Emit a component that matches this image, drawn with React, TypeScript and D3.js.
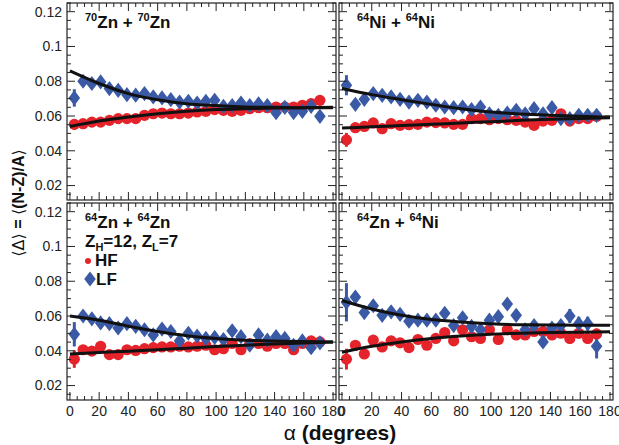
import React from "react";
import * as d3 from "d3";

// Emission angle of each data point (degrees)
const ALPHA = [3, 9, 15, 21, 27, 33, 39, 45, 51, 57, 63, 69, 75, 81, 87, 93, 99, 105, 111, 117, 123, 129, 135, 141, 147, 153, 159, 165, 171];
const FIT_ALPHA = [0, 20, 40, 60, 80, 100, 120, 140, 160, 180];

const X_TICKS = [0, 20, 40, 60, 80, 100, 120, 140, 160, 180];
const Y_TICKS = [0.02, 0.04, 0.06, 0.08, 0.1, 0.12];
const Y_TICK_LABELS = ["0.02", "0.04", "0.06", "0.08", "0.1", "0.12"];

// ---- 70Zn + 70Zn ----
const ZN70_HF = [0.0552, 0.0556, 0.0565, 0.0565, 0.0575, 0.0585, 0.0585, 0.0585, 0.0604, 0.0613, 0.0617, 0.0613, 0.0613, 0.0617, 0.0623, 0.0627, 0.0637, 0.0633, 0.0627, 0.0633, 0.0642, 0.0648, 0.0648, 0.0652, 0.0652, 0.0652, 0.0662, 0.0671, 0.069];
const ZN70_LF = [0.0704, 0.08, 0.0787, 0.0796, 0.0758, 0.0748, 0.0723, 0.072, 0.0729, 0.071, 0.0704, 0.0694, 0.068, 0.0685, 0.0675, 0.0685, 0.069, 0.0656, 0.066, 0.0675, 0.066, 0.067, 0.066, 0.0619, 0.065, 0.062, 0.0627, 0.0656, 0.0598];
const ZN70_HF_ERR = [0.003, 0.001, 0.001, 0.001, 0.001, 0.001, 0.001, 0.001, 0.001, 0.001, 0.001, 0.001, 0.001, 0.001, 0.001, 0.001, 0.001, 0.001, 0.001, 0.001, 0.001, 0.001, 0.001, 0.001, 0.001, 0.001, 0.001, 0.001, 0.001];
const ZN70_LF_ERR = [0.005, 0.001, 0.001, 0.001, 0.001, 0.001, 0.001, 0.001, 0.001, 0.001, 0.001, 0.001, 0.001, 0.001, 0.001, 0.001, 0.001, 0.001, 0.001, 0.001, 0.001, 0.001, 0.001, 0.001, 0.001, 0.001, 0.001, 0.001, 0.002];
const ZN70_HF_FIT = [0.054, 0.0571, 0.0594, 0.0613, 0.0627, 0.0637, 0.0642, 0.0646, 0.0648, 0.065];
const ZN70_LF_FIT = [0.086, 0.0787, 0.0729, 0.0694, 0.0671, 0.066, 0.0652, 0.065, 0.0648, 0.0648];

// ---- 64Ni + 64Ni ----
const NI64_HF = [0.0463, 0.0533, 0.054, 0.056, 0.0527, 0.0556, 0.0546, 0.055, 0.0552, 0.0565, 0.0562, 0.056, 0.0552, 0.0552, 0.0585, 0.0585, 0.0579, 0.0585, 0.0579, 0.0575, 0.0565, 0.0546, 0.0571, 0.0575, 0.0613, 0.0571, 0.0585, 0.0585, 0.0598];
const NI64_LF = [0.0777, 0.0667, 0.0696, 0.0729, 0.0719, 0.071, 0.0696, 0.068, 0.069, 0.068, 0.0662, 0.0652, 0.0648, 0.0652, 0.0637, 0.0652, 0.0613, 0.0604, 0.0617, 0.0633, 0.0613, 0.0642, 0.0613, 0.0648, 0.0585, 0.0585, 0.0604, 0.0604, 0.0604];
const NI64_HF_ERR = [0.004, 0.001, 0.001, 0.001, 0.001, 0.001, 0.001, 0.001, 0.001, 0.001, 0.001, 0.001, 0.001, 0.001, 0.001, 0.001, 0.001, 0.001, 0.001, 0.001, 0.001, 0.001, 0.001, 0.001, 0.001, 0.001, 0.001, 0.001, 0.001];
const NI64_LF_ERR = [0.0058, 0.001, 0.001, 0.001, 0.001, 0.001, 0.001, 0.001, 0.001, 0.001, 0.001, 0.001, 0.001, 0.001, 0.001, 0.001, 0.001, 0.001, 0.001, 0.001, 0.001, 0.001, 0.001, 0.001, 0.001, 0.001, 0.001, 0.001, 0.001];
const NI64_HF_FIT = [0.0531, 0.0538, 0.0545, 0.0552, 0.056, 0.0567, 0.0575, 0.0581, 0.0586, 0.059];
const NI64_LF_FIT = [0.0758, 0.0723, 0.0694, 0.0667, 0.0642, 0.0623, 0.0612, 0.0604, 0.0598, 0.0594];

// ---- 64Zn + 64Zn ----
const ZN64_HF = [0.0352, 0.0406, 0.0398, 0.0426, 0.0378, 0.0378, 0.0406, 0.0402, 0.0412, 0.0418, 0.0422, 0.0422, 0.0426, 0.0422, 0.0426, 0.0432, 0.0406, 0.0412, 0.0442, 0.0406, 0.0442, 0.0442, 0.0426, 0.0442, 0.0442, 0.0406, 0.0442, 0.0457, 0.0451];
const ZN64_LF = [0.0495, 0.06, 0.0584, 0.056, 0.0556, 0.0531, 0.0556, 0.0541, 0.0521, 0.0491, 0.0525, 0.0511, 0.0457, 0.0501, 0.0485, 0.0471, 0.0477, 0.0465, 0.0515, 0.0481, 0.0432, 0.0491, 0.0461, 0.0481, 0.0471, 0.0432, 0.0457, 0.0418, 0.0446];
const ZN64_HF_ERR = [0.005, 0.001, 0.001, 0.001, 0.001, 0.001, 0.001, 0.001, 0.001, 0.001, 0.001, 0.001, 0.001, 0.001, 0.001, 0.001, 0.001, 0.001, 0.001, 0.001, 0.001, 0.001, 0.001, 0.001, 0.001, 0.001, 0.001, 0.001, 0.001];
const ZN64_LF_ERR = [0.007, 0.001, 0.001, 0.001, 0.001, 0.001, 0.001, 0.001, 0.001, 0.001, 0.001, 0.001, 0.001, 0.001, 0.001, 0.001, 0.001, 0.001, 0.001, 0.001, 0.001, 0.001, 0.001, 0.001, 0.001, 0.001, 0.001, 0.001, 0.001];
const ZN64_HF_FIT = [0.0382, 0.039, 0.0398, 0.0406, 0.0415, 0.0424, 0.0432, 0.0439, 0.0445, 0.0451];
const ZN64_LF_FIT = [0.06, 0.0576, 0.0541, 0.0511, 0.0487, 0.0471, 0.0461, 0.0457, 0.0453, 0.0451];

// ---- 64Zn + 64Ni ----
const ZNNI_HF = [0.0352, 0.0432, 0.0382, 0.0461, 0.0422, 0.0457, 0.0446, 0.0418, 0.0465, 0.0432, 0.0471, 0.0505, 0.0457, 0.0521, 0.0481, 0.0471, 0.0521, 0.0465, 0.0521, 0.0491, 0.0491, 0.0511, 0.0511, 0.0491, 0.0501, 0.0471, 0.0501, 0.0471, 0.0497];
const ZNNI_LF = [0.0679, 0.0709, 0.062, 0.0659, 0.0604, 0.0624, 0.061, 0.057, 0.0576, 0.0576, 0.0576, 0.0616, 0.0545, 0.059, 0.0541, 0.0521, 0.0576, 0.0596, 0.0669, 0.0604, 0.0521, 0.0545, 0.0451, 0.0531, 0.0545, 0.06, 0.0556, 0.0556, 0.0426];
const ZNNI_HF_ERR = [0.006, 0.003, 0.002, 0.002, 0.002, 0.002, 0.002, 0.002, 0.002, 0.002, 0.002, 0.002, 0.002, 0.002, 0.002, 0.002, 0.002, 0.002, 0.002, 0.002, 0.002, 0.002, 0.003, 0.002, 0.002, 0.003, 0.003, 0.003, 0.003];
const ZNNI_LF_ERR = [0.011, 0.003, 0.002, 0.002, 0.002, 0.002, 0.002, 0.002, 0.002, 0.002, 0.002, 0.002, 0.002, 0.002, 0.002, 0.002, 0.003, 0.002, 0.002, 0.002, 0.002, 0.002, 0.003, 0.003, 0.003, 0.004, 0.004, 0.004, 0.007];
const ZNNI_HF_FIT = [0.0392, 0.0426, 0.0451, 0.0471, 0.0485, 0.0495, 0.0501, 0.0505, 0.0507, 0.0509];
const ZNNI_LF_FIT = [0.0689, 0.064, 0.0604, 0.058, 0.0566, 0.0556, 0.055, 0.0549, 0.0547, 0.0547];

const RED = "#e5232b";
const BLUE = "#3a5aa6";
const FONT = "'Liberation Sans', Arial, Helvetica, sans-serif";

type Panel = {
  key: string;
  a: string; b: string; ma: string; mb: string;
  x0: number; x1: number; y0: number; y1: number;
  hf: number[]; lf: number[]; hfErr: number[]; lfErr: number[];
  hfFit: number[]; lfFit: number[];
  legend?: boolean; yLabels: boolean; xLabels: boolean;
};

const PANELS: Panel[] = [
  { key: "tl", a: "70", ma: "Zn", b: "70", mb: "Zn", x0: 67, x1: 336, y0: 3, y1: 200, hf: ZN70_HF, lf: ZN70_LF, hfErr: ZN70_HF_ERR, lfErr: ZN70_LF_ERR, hfFit: ZN70_HF_FIT, lfFit: ZN70_LF_FIT, yLabels: true, xLabels: false },
  { key: "tr", a: "64", ma: "Ni", b: "64", mb: "Ni", x0: 339, x1: 613, y0: 3, y1: 200, hf: NI64_HF, lf: NI64_LF, hfErr: NI64_HF_ERR, lfErr: NI64_LF_ERR, hfFit: NI64_HF_FIT, lfFit: NI64_LF_FIT, yLabels: false, xLabels: false },
  { key: "bl", a: "64", ma: "Zn", b: "64", mb: "Zn", x0: 67, x1: 336, y0: 203, y1: 400, hf: ZN64_HF, lf: ZN64_LF, hfErr: ZN64_HF_ERR, lfErr: ZN64_LF_ERR, hfFit: ZN64_HF_FIT, lfFit: ZN64_LF_FIT, legend: true, yLabels: true, xLabels: true },
  { key: "br", a: "64", ma: "Zn", b: "64", mb: "Ni", x0: 339, x1: 613, y0: 203, y1: 400, hf: ZNNI_HF, lf: ZNNI_LF, hfErr: ZNNI_HF_ERR, lfErr: ZNNI_LF_ERR, hfFit: ZNNI_HF_FIT, lfFit: ZNNI_LF_FIT, yLabels: false, xLabels: true },
];

const diamond = (cx: number, cy: number, w = 5.8, h = 7.6) =>
  `M${cx},${cy - h}L${cx + w},${cy}L${cx},${cy + h}L${cx - w},${cy}Z`;

function PanelView({ p }: { p: Panel }) {
  const x = d3.scaleLinear().domain([-2, 182]).range([p.x0, p.x1]);
  const y = d3.scaleLinear().domain([0.0117, 0.125]).range([p.y1, p.y0]);
  const line = d3.line<number>().x((_, i) => x(FIT_ALPHA[i])).y((d) => y(d)).curve(d3.curveMonotoneX);
  const xMinor = d3.range(0, 181, 5);
  const yMinor = d3.range(0.015, 0.1251, 0.005);
  const clipId = `clip-${p.key}`;
  return (
    <g>
      <defs>
        <clipPath id={clipId}>
          <rect x={p.x0} y={p.y0} width={p.x1 - p.x0} height={p.y1 - p.y0} />
        </clipPath>
      </defs>
      <g clipPath={`url(#${clipId})`}>
        {p.hf.map((v, i) => (
          <line key={`he${i}`} x1={x(ALPHA[i])} x2={x(ALPHA[i])} y1={y(v - p.hfErr[i])} y2={y(v + p.hfErr[i])} stroke={RED} strokeWidth={3} />
        ))}
        {p.lf.map((v, i) => (
          <line key={`le${i}`} x1={x(ALPHA[i])} x2={x(ALPHA[i])} y1={y(v - p.lfErr[i])} y2={y(v + p.lfErr[i])} stroke={BLUE} strokeWidth={3} />
        ))}
        {p.hf.map((v, i) => (
          <circle key={`h${i}`} cx={x(ALPHA[i])} cy={y(v)} r={5.6} fill={RED} />
        ))}
        {p.lf.map((v, i) => (
          <path key={`l${i}`} d={diamond(x(ALPHA[i]), y(v))} fill={BLUE} />
        ))}
        <path d={line(p.hfFit) || ""} fill="none" stroke="#111" strokeWidth={3} />
        <path d={line(p.lfFit) || ""} fill="none" stroke="#111" strokeWidth={3} />
      </g>
      {xMinor.map((t) => {
        const major = t % 20 === 0;
        const len = major ? 8 : 4;
        return (
          <g key={`xt${t}`} stroke="#222" strokeWidth={1}>
            <line x1={x(t)} x2={x(t)} y1={p.y1} y2={p.y1 - len} />
            <line x1={x(t)} x2={x(t)} y1={p.y0} y2={p.y0 + len} />
          </g>
        );
      })}
      {yMinor.map((t, i) => {
        const major = Math.abs(Math.round(t * 50) - t * 50) < 1e-6;
        const len = major ? 8 : 4;
        return (
          <g key={`yt${i}`} stroke="#222" strokeWidth={1}>
            <line x1={p.x0} x2={p.x0 + len} y1={y(t)} y2={y(t)} />
            <line x1={p.x1} x2={p.x1 - len} y1={y(t)} y2={y(t)} />
          </g>
        );
      })}
      <rect x={p.x0} y={p.y0} width={p.x1 - p.x0} height={p.y1 - p.y0} fill="none" stroke="#222" strokeWidth={1.2} />
      {p.yLabels &&
        Y_TICKS.map((t, i) => (
          <text key={`yl${i}`} x={p.x0 - 5} y={y(t)} dy="0.35em" textAnchor="end" fontSize={14} fill="#222" fontFamily={FONT}>
            {Y_TICK_LABELS[i]}
          </text>
        ))}
      {p.xLabels &&
        X_TICKS.map((t) => (
          <text key={`xl${t}`} x={x(t)} y={p.y1 + 16} textAnchor="middle" fontSize={14} fill="#222" fontFamily={FONT}>
            {t}
          </text>
        ))}
      <text x={p.x0 + 18} y={p.y0 + 25} fontSize={17} fontWeight="bold" fontFamily={FONT} fill="#111">
        <tspan fontSize={11} dy={-7}>{p.a}</tspan>
        <tspan dy={7}>{p.ma} + </tspan>
        <tspan fontSize={11} dy={-7}>{p.b}</tspan>
        <tspan dy={7}>{p.mb}</tspan>
      </text>
      {p.legend && (
        <g fontFamily={FONT} fontWeight="bold" fill="#111">
          <text x={p.x0 + 18} y={p.y0 + 44} fontSize={17}>
            <tspan>Z</tspan>
            <tspan fontSize={11} dy={4}>H</tspan>
            <tspan dy={-4}>=12, Z</tspan>
            <tspan fontSize={11} dy={4}>L</tspan>
            <tspan dy={-4}>=7</tspan>
          </text>
          <circle cx={p.x0 + 21} cy={p.y0 + 58} r={3} fill={RED} />
          <text x={p.x0 + 28} y={p.y0 + 63} fontSize={17}>HF</text>
          <path d={diamond(p.x0 + 23, p.y0 + 76)} fill={BLUE} />
          <text x={p.x0 + 29} y={p.y0 + 82} fontSize={17}>LF</text>
        </g>
      )}
    </g>
  );
}

export default function App() {
  return (
    <svg width={619} height={445} style={{ position: "absolute", left: 0, top: 0, background: "#fff" }}>
      <rect width={619} height={445} fill="#fff" />
      {PANELS.map((p) => (
        <PanelView key={p.key} p={p} />
      ))}
      <text transform="translate(24,203) rotate(-90)" textAnchor="middle" fontSize={16} fontFamily={FONT} fill="#111">
        <tspan fontFamily="'DejaVu Sans', sans-serif">⟨Δ⟩</tspan>
        <tspan fontWeight="bold"> = </tspan>
        <tspan fontFamily="'DejaVu Sans', sans-serif">⟨</tspan>
        <tspan fontWeight="bold">(N-Z)/A</tspan>
        <tspan fontFamily="'DejaVu Sans', sans-serif">⟩</tspan>
      </text>
      <text x={340} y={440} textAnchor="middle" fontSize={21} fontFamily={FONT} fill="#111">
        <tspan>α </tspan>
        <tspan fontWeight="bold">(degrees)</tspan>
      </text>
    </svg>
  );
}
